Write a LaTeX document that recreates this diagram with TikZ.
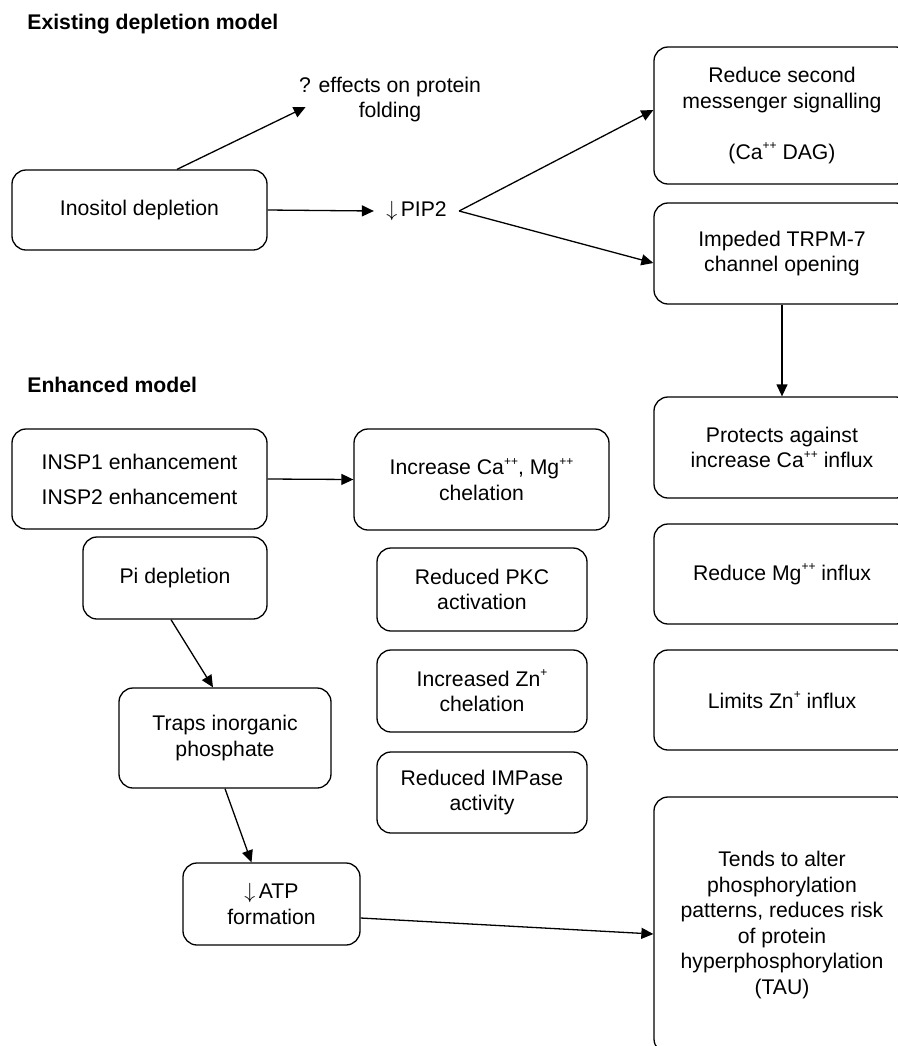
\documentclass[tikz,border=0pt]{standalone}
\usepackage{fontspec}
\setmainfont{Liberation Sans}
\usetikzlibrary{arrows.meta}

\newcommand{\diagfont}{\fontsize{10.6}{12.8}\selectfont}
\newcommand{\ionsup}[1]{\raisebox{0.85ex}{\fontsize{6}{6}\selectfont #1}}
\newcommand{\dn}{$\downarrow$\,}
\tikzset{
  rbox/.style={draw, rounded corners=7pt, align=center, inner sep=0pt, line width=0.65pt},
  arr/.style={-{Triangle[length=6pt,width=5.5pt]}, line width=0.65pt},
  heading/.style={anchor=west, inner sep=0pt, font=\diagfont\bfseries},
}

\begin{document}
\begin{tikzpicture}[x=0.5pt, y=-0.5pt, every node/.style={font=\diagfont}]
        \useasboundingbox (0,0) rectangle (898,1046);
        \clip (0,0) rectangle (898,1046);

        % existing depletion model
        \node[heading] (titleA) at (27,24) {Existing depletion model};
        \node[align=center, inner sep=0pt] (effects) at (390,99.5) {? effects on protein\\folding};
        \node[rbox, minimum width=127.5pt, minimum height=40pt] (inositol) at (139.5,210) {Inositol depletion};
        \node[inner sep=6pt] (pip) at (416.5,211) {\dn PIP2};

        % pip2 targets
        \node[rbox, minimum width=128pt, minimum height=68.5pt] (reduce) at (782,115.5) {Reduce second\\messenger signalling\\[12.8pt](Ca\ionsup{++} DAG)};
        \node[rbox, minimum width=128pt, minimum height=50.5pt] (trpm) at (782,253.5) {Impeded TRPM-7\\channel opening};

        % inositol to outcomes
        \draw[arr] ([xshift=18.75pt]inositol.north) -- ([xshift=3.5pt, yshift=-3.75pt]effects.west);
        \draw[arr] (inositol.east) -- (pip.west);
        \draw[arr] (pip.east) -- ([yshift=2.75pt]reduce.west);
        \draw[arr] (pip.east) -- ([yshift=-4.75pt]trpm.west);

        % right column
        \node[rbox, minimum width=128pt, minimum height=50.5pt] (protects) at (782,447.5) {Protects against\\increase Ca\ionsup{++} influx};
        \node[rbox, minimum width=128pt, minimum height=50pt] (mgflux) at (782,574) {Reduce Mg\ionsup{++} influx};
        \node[rbox, minimum width=128pt, minimum height=50pt] (znflux) at (782,700) {Limits Zn\ionsup{+} influx};
        \node[rbox, minimum width=128pt, minimum height=128pt] (tau) at (782,925) {Tends to alter\\phosphorylation\\patterns, reduces risk\\of protein\\hyperphosphorylation\\(TAU)};

        \draw[arr] (trpm.south) -- (protects.north);

        % enhanced model
        \node[heading] (titleB) at (27,385) {Enhanced model};
        \node[rbox, minimum width=127.5pt, minimum height=50pt] (insp) at (139.5,479) {INSP1 enhancement\\[4.7pt]INSP2 enhancement};
        \node[rbox, minimum width=92pt, minimum height=41pt] (pi) at (175,578) {Pi depletion};
        \node[rbox, minimum width=106pt, minimum height=50pt] (traps) at (225,738) {Traps inorganic\\phosphate};
        \node[rbox, minimum width=88.5pt, minimum height=41pt] (atp) at (271.5,904) {\dn ATP\\formation};

        % middle column
        \node[rbox, minimum width=127.5pt, minimum height=50.5pt] (incr) at (481.5,479.5) {Increase Ca\ionsup{++}, Mg\ionsup{++}\\chelation};
        \node[rbox, minimum width=105pt, minimum height=41.5pt] (pkc) at (482,589.5) {Reduced PKC\\activation};
        \node[rbox, minimum width=105pt, minimum height=41pt] (znc) at (482,691) {Increased Zn\ionsup{+}\\chelation};
        \node[rbox, minimum width=105pt, minimum height=40.5pt] (impase) at (482,792.5) {Reduced IMPase\\activity};

        % enhanced model arrows
        \draw[arr] (insp.east) -- (incr.west);
        \draw[arr] ([xshift=-2pt]pi.south) -- ([xshift=-6pt]traps.north);
        \draw[arr] (traps.south) -- ([xshift=-10pt]atp.north);
        \draw[arr] ([yshift=-7pt]atp.east) -- ([yshift=-4.5pt]tau.west);

\end{tikzpicture}
\end{document}
